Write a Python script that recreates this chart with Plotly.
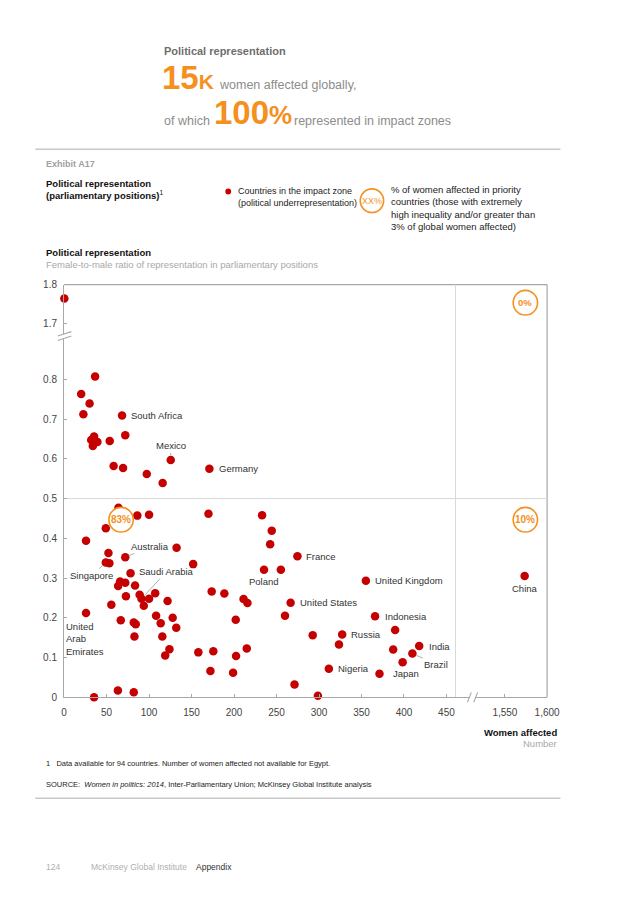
import plotly.graph_objects as go

# ---------------- data ----------------
# labelled countries
labeled_names = ["Rwanda", "South Africa", "Mexico", "Germany", "Australia", "Singapore", "France",
                 "Poland", "Saudi Arabia", "United States", "United Arab Emirates", "United Kingdom",
                 "Indonesia", "Russia", "India", "Brazil", "Nigeria", "Japan", "China"]
labeled_women = [0.3, 68.2, 125.5, 171.0, 72.0, 49.1, 274.6,
                 235.3, 91.1, 266.6, 25.8, 355.2,
                 366.0, 327.3, 417.9, 409.9, 311.6, 371.2, 1573.4]
labeled_ratio = [1.764, 0.709, 0.597, 0.575, 0.352, 0.339, 0.355,
                 0.321, 0.248, 0.238, 0.212, 0.293,
                 0.204, 0.158, 0.129, 0.110, 0.072, 0.059, 0.305]
# other countries in the impact zone (unlabelled)
other_women = [
    36.5, 20.1, 30.0, 22.7, 35.3, 72.0, 31.9, 39.2, 33.8, 53.7, 58.3, 69.4, 97.3, 116.0,
    64.0, 86.2, 100.0, 49.1, 25.8, 169.9, 233.0, 244.4, 242.5, 132.4, 52.2,
    53.3, 151.9, 255.1, 78.2, 65.9, 72.0, 63.6, 83.5, 72.8, 88.9,
    100.0, 107.2, 93.8, 55.6, 121.8, 173.7, 188.6, 211.2, 215.8,
    108.3, 127.8, 113.7, 66.7, 82.0, 84.3, 132.0, 202.0, 260.0, 82.8, 115.6, 292.6, 124.0, 119.0,
    158.0, 175.6, 215.0, 202.4, 172.2, 198.9, 271.2, 298.7, 63.3, 82.0, 35.3,
    389.6, 323.5, 387.3, 398.4,
]
other_ratio = [
    0.807, 0.763, 0.739, 0.712, 0.656, 0.659, 0.647, 0.642, 0.632, 0.645, 0.582, 0.577, 0.562, 0.539,
    0.477, 0.457, 0.459, 0.425, 0.394, 0.462, 0.458, 0.419, 0.385, 0.376, 0.363,
    0.337, 0.335, 0.321, 0.312, 0.291, 0.288, 0.280, 0.281, 0.254, 0.258,
    0.248, 0.262, 0.230, 0.233, 0.242, 0.266, 0.261, 0.247, 0.237,
    0.205, 0.200, 0.186, 0.194, 0.188, 0.184, 0.175, 0.195, 0.205, 0.153, 0.153, 0.156, 0.121, 0.105,
    0.113, 0.116, 0.123, 0.104, 0.066, 0.062, 0.032, 0.004, 0.017, 0.013, 0.000,
    0.169, 0.133, 0.120, 0.088,
]
x_ticks_left = [0, 50, 100, 150, 200, 250, 300, 350, 400, 450]
x_ticks_right = [1550, 1600]
y_ticks_low = [0, 0.1, 0.2, 0.3, 0.4, 0.5, 0.6, 0.7, 0.8]
y_ticks_high = [1.7, 1.8]
bubble_labels = ["83%", "10%", "0%"]

# ---------------- helpers ----------------
# The page keeps the browser's default 8px body margin, so the figure is 16px
# smaller than the window and reference pixel p maps to figure pixel p - 8.
OFF = 8
W, H = 636 - 2 * OFF, 900 - 2 * OFF
def P(px):
    return (px - OFF) / W
def Q(py):
    return 1 - (py - OFF) / H

RED = "#C40000"
ORANGE = "#F5901E"
AXIS = "#A8A8A8"
LIGHT = "#D9D9D9"
FONT = "Liberation Sans, Arial, Helvetica, sans-serif"
TXT = "#333333"
GRAY = "#8C8C8C"

# axis geometry (reference pixels)
X0, XB1, XB2, XR = 62.5, 479.5, 484.0, 558.3
YBOT, YB1, YB2, YTOP = 700.7, 337.0, 332.0, 282.3
sx = 0.8722
sy_low = 403.0
sy_high = 394.0

fig = go.Figure()

def axes_for(x, y):
    xa = "x2" if x > 1000 else "x"
    ya = "y2" if y > 1 else "y"
    return xa, ya

all_x = list(other_women) + list(labeled_women)
all_y = list(other_ratio) + list(labeled_ratio)
all_n = [""] * len(other_women) + list(labeled_names)
groups = {}
for n, x, y in zip(all_n, all_x, all_y):
    key = axes_for(x, y)
    groups.setdefault(key, ([], [], []))
    groups[key][0].append(x)
    groups[key][1].append(y)
    groups[key][2].append(n)

for (xa, ya), (xs, ys, ns) in groups.items():
    fig.add_trace(go.Scatter(
        x=xs, y=ys, text=ns, mode="markers", xaxis=xa, yaxis=ya,
        marker=dict(color=RED, size=8.5, line=dict(width=0)),
        cliponaxis=False, showlegend=False, hoverinfo="text+x+y",
    ))

tickfont = dict(family=FONT, size=10, color="#444444")
common_x = dict(showgrid=False, zeroline=False, showline=True, linecolor=AXIS, linewidth=1.2,
                ticks="inside", ticklen=3, tickcolor=AXIS, tickfont=tickfont, ticklabelstandoff=6)
common_y = dict(showgrid=False, zeroline=False, showline=True, linecolor=AXIS, linewidth=1.2,
                ticks="inside", ticklen=3, tickcolor=AXIS, tickfont=tickfont, ticklabelstandoff=4)

fig.update_layout(
    width=W, height=H, margin=dict(l=0, r=0, t=0, b=0),
    paper_bgcolor="white", plot_bgcolor="rgba(0,0,0,0)",
    xaxis=dict(domain=[P(X0), P(XB1)], range=[0, (XB1 - X0) / sx], anchor="y",
               tickvals=x_ticks_left, ticktext=[str(v) for v in x_ticks_left], **common_x),
    xaxis2=dict(domain=[P(XB2), P(XR)], range=[1600 - (XR - XB2) / 0.866, 1600], anchor="y",
                tickvals=x_ticks_right, ticktext=[f"{v:,}" for v in x_ticks_right], **common_x),
    yaxis=dict(domain=[Q(YBOT), Q(YB1)], range=[0, (YBOT - YB1) / sy_low], anchor="x",
               tickvals=y_ticks_low, ticktext=["0"] + [f"{v:.1f}" for v in y_ticks_low[1:]], **common_y),
    yaxis2=dict(domain=[Q(YB2), Q(YTOP)], range=[1.8 - (YB2 - YTOP) / sy_high, 1.8], anchor="x",
                tickvals=y_ticks_high, ticktext=[f"{v:.1f}" for v in y_ticks_high], **common_y),
)

shapes = []
def line(x0, y0, x1, y1, color=AXIS, width=1.0, layer="below"):
    shapes.append(dict(type="line", xref="paper", yref="paper", x0=P(x0), y0=Q(y0), x1=P(x1), y1=Q(y1),
                       line=dict(color=color, width=width), layer=layer))

# frame and reference lines
line(X0, YTOP, XR, YTOP, AXIS, 1.2)
line(XR, YTOP, XR, YBOT, AXIS, 1.2)
shapes.append(dict(type="line", xref="x", yref="paper", x0=(464.3 - X0) / sx, x1=(464.3 - X0) / sx,
                   y0=Q(YBOT), y1=Q(YTOP), line=dict(color=LIGHT, width=1), layer="below"))
shapes.append(dict(type="line", xref="paper", yref="y", x0=P(X0), x1=P(XR), y0=0.5, y1=0.5,
                   line=dict(color=LIGHT, width=1), layer="below"))
# axis breaks
line(XB1 - 3, YBOT + 5, XB1 + 1, YBOT - 5, AXIS, 1.1)
line(XB2 - 1, YBOT + 5, XB2 + 3, YBOT - 5, AXIS, 1.1)
line(X0 - 6.5, YB1 + 2, X0 + 7.5, YB1 - 2.5, AXIS, 1.1)
line(X0 - 6.5, YB2 + 2.5, X0 + 7.5, YB2 - 2, AXIS, 1.1)
# page rules
line(33, 145, 572, 145, "#C8C8C8", 1.5)
line(33, 803, 572, 803, "#C8C8C8", 1.5)

# bubbles
def circle(cx, cy, r, width=1.6):
    shapes.append(dict(type="circle", xref="paper", yref="paper", x0=P(cx - r), x1=P(cx + r),
                       y0=Q(cy + r), y1=Q(cy - r), fillcolor="white", line=dict(color=ORANGE, width=width),
                       layer="above"))

bubble_pos = [(121, 520.7), (536, 520.7), (536, 300.7)]
for (cx, cy) in bubble_pos:
    circle(cx, cy, 12.5)
circle(378.5, 197.3, 12)
# legend dot
shapes.append(dict(type="circle", xref="paper", yref="paper", x0=P(228), x1=P(234), y0=Q(191), y1=Q(185),
                   fillcolor=RED, line=dict(width=0)))

fig.update_layout(shapes=shapes)

ann = []
def text(px, py, s, size=9.5, color=TXT, anchor="left", bold=False, family=FONT, valign="middle"):
    if bold:
        s = f"<b>{s}</b>"
    ann.append(dict(xref="paper", yref="paper", x=P(px), y=Q(py), text=s, showarrow=False,
                    xanchor=anchor, yanchor=valign, font=dict(family=family, size=size, color=color),
                    align=anchor if anchor != "center" else "center"))

for lbl, (cx, cy) in zip(bubble_labels, bubble_pos):
    text(cx, cy, lbl, size=10 if lbl != "0%" else 9.5, color=ORANGE, anchor="center", bold=True)
text(378.5, 197.3, "XX%", size=9, color=ORANGE, anchor="center")

# header
text(163, 46, "Political representation", size=11, color="#6E6E6E", bold=True)
text(161, 72, "<b>15<span style='font-size:21px'>K</span></b>", size=33, color=ORANGE)
text(219, 80, "women affected globally,", size=12.5, color=GRAY)
text(163, 116, "of which", size=12.5, color=GRAY)
text(214, 108, "<b>100<span style='font-size:26px'>%</span></b>", size=33, color=ORANGE)
text(296, 116, "represented in impact zones", size=12.5, color=GRAY)

text(42, 160, "Exhibit A17", size=9, color="#A0A0A0", bold=True)
text(42, 186, "<b>Political representation</b><br><b>(parliamentary positions)</b><sup>1</sup>",
     size=9.5, color="#111111", valign="middle")
text(239, 193.5, "Countries in the impact zone<br>(political underrepresentation)", size=9, color="#222222")
text(396, 205, "% of women affected in priority<br>countries (those with extremely<br>high inequality and/or greater than<br>3% of global women affected)",
     size=9.5, color="#222222")
text(42, 250, "Political representation", size=9.5, color="#111111", bold=True)
text(42, 262, "Female-to-male ratio of representation in parliamentary positions", size=9.5, color="#A8A8A8")

text(571, 736, "Women affected", size=9.5, color="#111111", anchor="right", bold=True)
text(571, 748, "Number", size=9.5, color="#A8A8A8", anchor="right")

text(42, 768, "1&nbsp;&nbsp;&nbsp;Data available for 94 countries. Number of women affected not available for Egypt.",
     size=7.5, color="#222222")
text(42, 789, "SOURCE:&nbsp;&nbsp;<i>Women in politics: 2014</i>, Inter-Parliamentary Union; McKinsey Global Institute analysis",
     size=7.5, color="#222222")
text(42, 873, "124", size=8.5, color="#B0B0B0")
text(88, 873, "McKinsey Global Institute", size=8.5, color="#B0B0B0")
text(196, 873, "Appendix", size=8.5, color="#333333")

# point labels
lookup = {n: (x, y) for n, x, y in zip(labeled_names, labeled_women, labeled_ratio)}
right_labels = {"South Africa": 7, "Germany": 7.5, "France": 7, "United Kingdom": 7.5, "Indonesia": 7.5,
                "Russia": 7, "India": 7.5, "Nigeria": 7.5, "Japan": 11, "United States": 7.5}
for name, shift in right_labels.items():
    x, y = lookup[name]
    xa, ya = axes_for(x, y)
    ann.append(dict(xref=xa, yref=ya, x=x, y=y, text=name, showarrow=False, xanchor="left", yanchor="middle",
                    xshift=shift, font=dict(family=FONT, size=9.5, color=TXT)))
below_labels = {"China": -12, "Poland": -11.5}
for name, shift in below_labels.items():
    x, y = lookup[name]
    xa, ya = axes_for(x, y)
    ann.append(dict(xref=xa, yref=ya, x=x, y=y, text=name, showarrow=False, xanchor="center", yanchor="middle",
                    yshift=shift, font=dict(family=FONT, size=9.5, color=TXT)))
x, y = lookup["United Arab Emirates"]
ann.append(dict(xref="x", yref="y", x=x, y=y, text="United<br>Arab<br>Emirates", showarrow=False,
                xanchor="left", yanchor="top", align="left", xshift=-22, yshift=-6,
                font=dict(family=FONT, size=9.5, color=TXT)))
leader_labels = {"Mexico": (0, -14), "Australia": (25, -11), "Singapore": (-14, 13),
                 "Saudi Arabia": (25, -27), "Brazil": (24, 10.5)}
for name, (ax, ay) in leader_labels.items():
    x, y = lookup[name]
    ann.append(dict(xref="x", yref="y", x=x, y=y, text=name, showarrow=True, arrowhead=0, arrowwidth=0.7,
                    arrowcolor="#8A8A8A", ax=ax, ay=ay, standoff=4.5,
                    font=dict(family=FONT, size=9.5, color=TXT)))

fig.update_layout(annotations=ann)
fig.write_html("out.html", config={"displayModeBar": False})
